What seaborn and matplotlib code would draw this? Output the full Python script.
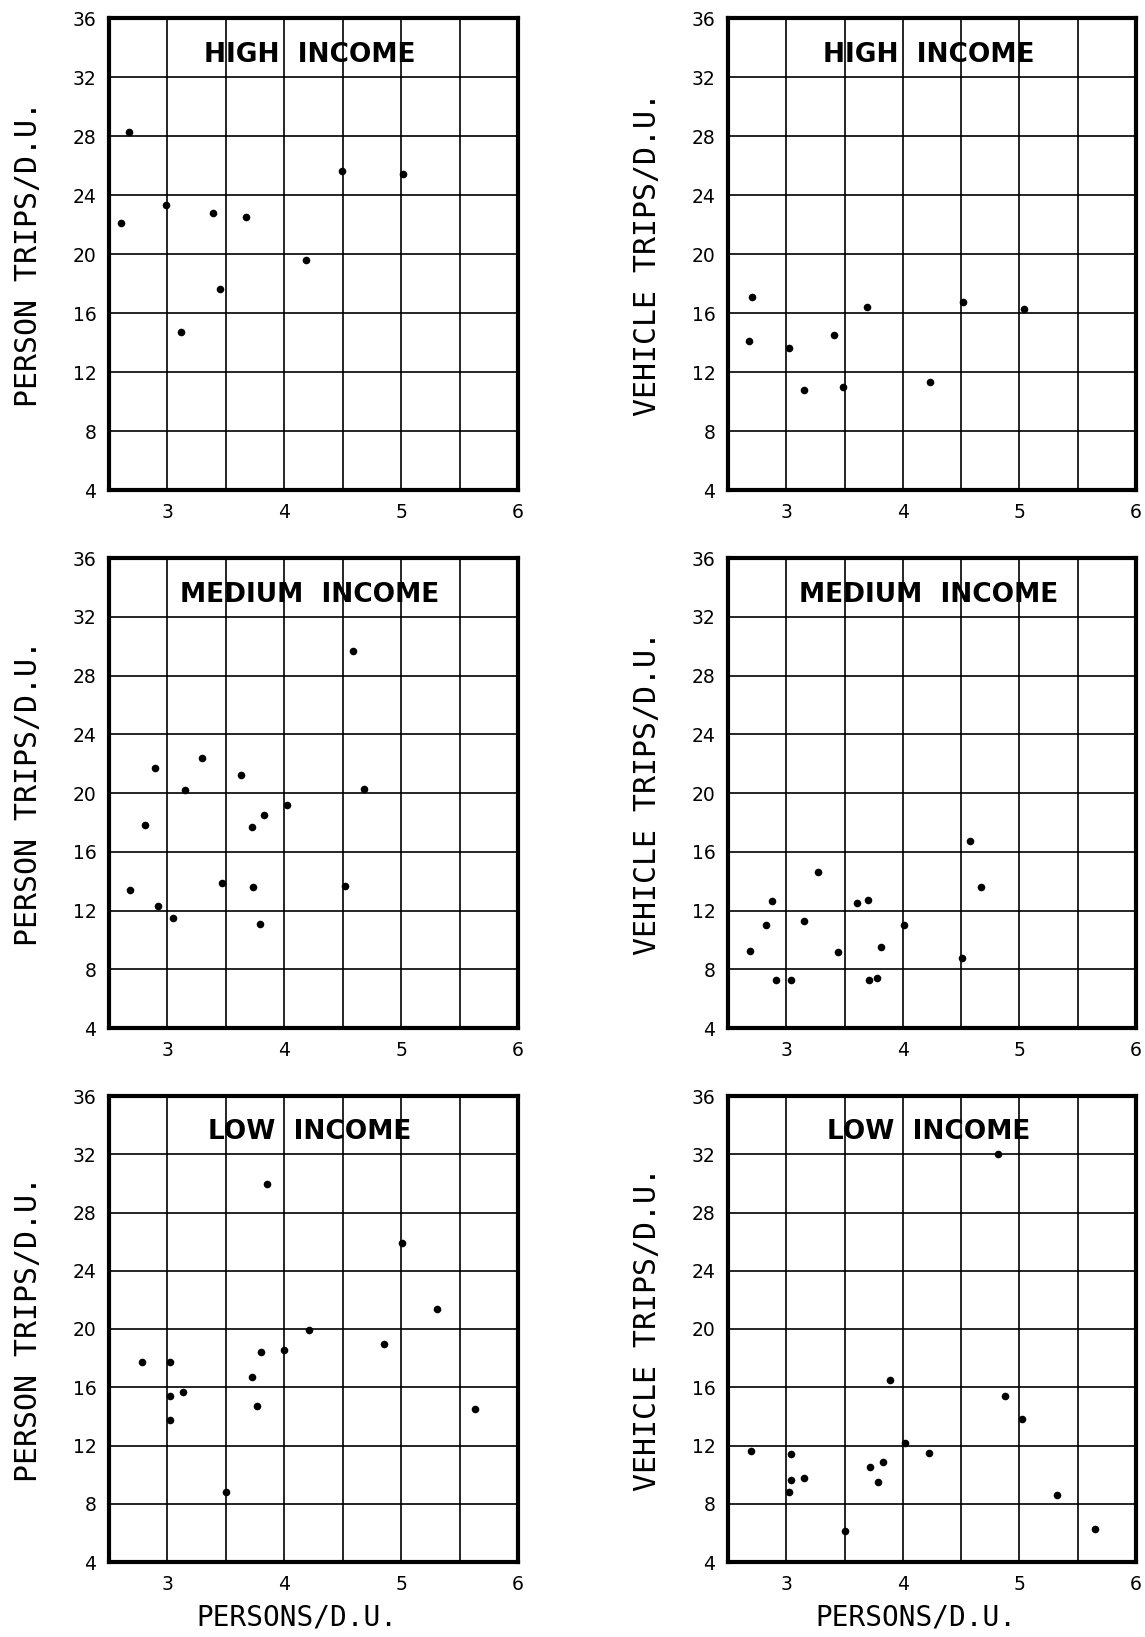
import matplotlib
matplotlib.use("Agg")
import matplotlib.pyplot as plt
import seaborn as sns
import pandas as pd

# ---------------- data ----------------
high_person_x = [2.67, 4.49, 5.02, 2.99, 2.60, 3.39, 3.67, 4.19, 3.45, 3.12]
high_person_y = [28.3, 25.6, 25.4, 23.3, 22.1, 22.8, 22.5, 19.6, 17.6, 14.7]

high_vehicle_x = [2.71, 3.69, 4.52, 5.04, 2.68, 3.41, 3.02, 3.15, 3.49, 4.23]
high_vehicle_y = [17.1, 16.4, 16.75, 16.3, 14.1, 14.5, 13.6, 10.8, 11.0, 11.3]

med_person_x = [4.59, 3.30, 2.89, 3.63, 3.15, 4.68, 4.02, 3.83, 3.72, 2.81,
                3.47, 3.73, 4.52, 2.68, 2.92, 3.05, 3.79]
med_person_y = [29.7, 22.35, 21.7, 21.2, 20.2, 20.3, 19.2, 18.5, 17.7, 17.8,
                13.9, 13.6, 13.65, 13.4, 12.3, 11.5, 11.05]

med_vehicle_x = [4.58, 3.27, 4.67, 2.88, 3.61, 3.70, 2.83, 3.15, 4.01, 2.69,
                 3.44, 3.81, 4.51, 2.91, 3.04, 3.71, 3.78]
med_vehicle_y = [16.7, 14.6, 13.6, 12.65, 12.5, 12.7, 11.0, 11.3, 11.0, 9.25,
                 9.2, 9.5, 8.75, 7.3, 7.3, 7.25, 7.4]

low_person_x = [3.85, 5.01, 5.31, 4.21, 4.85, 4.00, 3.80, 2.78, 3.02, 3.72,
                3.13, 3.02, 3.77, 5.63, 3.02, 3.50]
low_person_y = [29.95, 25.9, 21.4, 19.9, 19.0, 18.55, 18.4, 17.7, 17.7, 16.7,
                15.65, 15.4, 14.7, 14.5, 13.75, 8.8]

low_vehicle_x = [4.82, 3.89, 4.88, 5.02, 4.02, 2.70, 3.04, 4.22, 3.83, 3.72,
                 3.79, 3.15, 3.04, 3.02, 5.32, 3.50, 5.65]
low_vehicle_y = [32.0, 16.5, 15.4, 13.85, 12.2, 11.6, 11.4, 11.5, 10.9, 10.5,
                 9.5, 9.75, 9.6, 8.8, 8.6, 6.1, 6.3]

titles = ["HIGH  INCOME", "MEDIUM  INCOME", "LOW  INCOME"]
ylabels = ["PERSON TRIPS/D.U.", "VEHICLE TRIPS/D.U."]
xlabel = "PERSONS/D.U."
x_ticks = [2.5, 3, 3.5, 4, 4.5, 5, 5.5, 6]
x_ticklabels = ["", "3", "", "4", "", "5", "", "6"]
y_ticks = [4, 8, 12, 16, 20, 24, 28, 32, 36]

panels = [
    [(high_person_x, high_person_y), (high_vehicle_x, high_vehicle_y)],
    [(med_person_x, med_person_y), (med_vehicle_x, med_vehicle_y)],
    [(low_person_x, low_person_y), (low_vehicle_x, low_vehicle_y)],
]

# ---------------- figure ----------------
sns.set_theme(style="white")
plt.rcParams['font.family'] = ['DejaVu Sans']

W, H = 1145, 1637
fig = plt.figure(figsize=(W / 100, H / 100), dpi=100)
fig.patch.set_facecolor("white")

col_left = [(109, 518), (728, 1136)]
row_tb = [(18, 490), (558, 1028), (1096, 1562)]

for r in range(3):
    for c in range(2):
        l, rr = col_left[c]
        t, b = row_tb[r]
        ax = fig.add_axes([l / W, 1 - b / H, (rr - l) / W, (b - t) / H])
        xs, ys = panels[r][c]
        df = pd.DataFrame({"x": xs, "y": ys})
        sns.scatterplot(data=df, x="x", y="y", ax=ax, color="black",
                        s=30, edgecolor="black", linewidth=0, zorder=3)
        ax.set_xlim(2.5, 6)
        ax.set_ylim(4, 36)
        ax.set_xticks(x_ticks)
        ax.set_xticklabels(x_ticklabels)
        ax.set_yticks(y_ticks)
        ax.set_yticklabels([str(v) for v in y_ticks])
        ax.grid(True, color="black", linewidth=1.2)
        ax.set_axisbelow(True)
        ax.tick_params(length=0, labelsize=13.5, pad=9, colors="black")
        for sp in ax.spines.values():
            sp.set_visible(True)
            sp.set_color("black")
            sp.set_linewidth(3)
        ax.set_facecolor("white")
        ax.set_ylabel(ylabels[c], family="DejaVu Sans Mono", fontsize=21.5,
                      color="black")
        ax.yaxis.set_label_coords(-66 / 409, 0.5)
        if r == 2:
            ax.set_xlabel(xlabel, family="DejaVu Sans Mono", fontsize=20,
                          color="black")
            ax.xaxis.set_label_coords(0.46, -42 / 466)
        else:
            ax.set_xlabel("")
        ax.text(4.22, 33.5, titles[r], ha="center", va="center",
                fontsize=19, fontweight="bold", color="black", zorder=4)

fig.savefig("out.png", dpi=100, facecolor="white")
